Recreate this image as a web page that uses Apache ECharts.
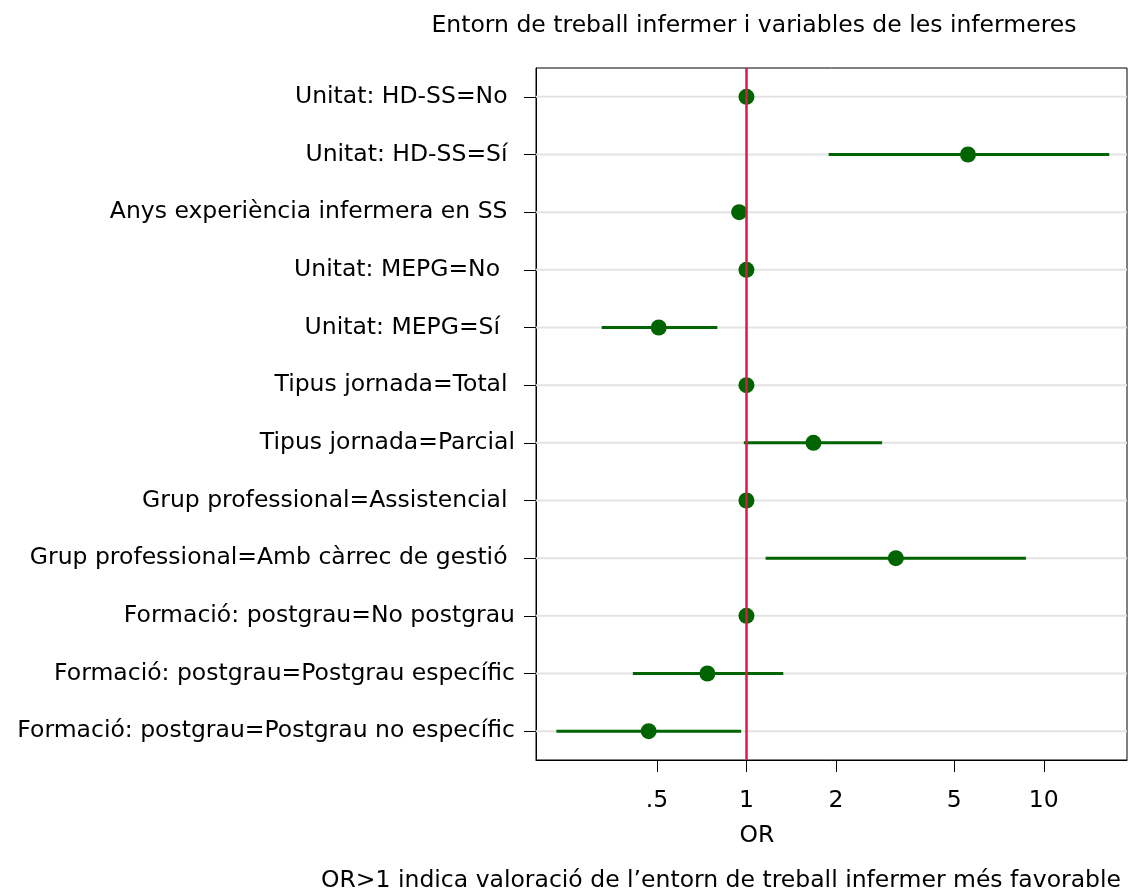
<!DOCTYPE html>
<html>
<head>
<meta charset="utf-8">
<script src="https://cdn.jsdelivr.net/npm/echarts@6/dist/echarts.min.js"></script>
<style>
html,body{margin:0;padding:0;background:#fff;}
#chart{width:1129px;height:892px;}
</style>
</head>
<body>
<div id="chart"></div>
<script>
// ---- data ----
const categories = [
  'Unitat: HD-SS=No',
  'Unitat: HD-SS=Sí',
  'Anys experiència infermera en SS',
  'Unitat: MEPG=No',
  'Unitat: MEPG=Sí',
  'Tipus jornada=Total',
  'Tipus jornada=Parcial',
  'Grup professional=Assistencial',
  'Grup professional=Amb càrrec de gestió',
  'Formació: postgrau=No postgrau',
  'Formació: postgrau=Postgrau específic',
  'Formació: postgrau=Postgrau no específic'
];
const oddsRatio = [1, 5.56, 0.945, 1, 0.507, 1, 1.68, 1, 3.18, 1, 0.739, 0.469];
const ciLow     = [null, 1.89, 0.93, null, 0.326, null, 0.98, null, 1.16, null, 0.415, 0.2295];
const ciHigh    = [null, 16.6, 0.96, null, 0.798, null, 2.86, null, 8.71, null, 1.33, 0.96];
const tickValues = [0.5, 1, 2, 5, 10];
const tickLabels = ['.5', '1', '2', '5', '10'];
const refLine = 1;
const titleText = 'Entorn de treball infermer i variables de les infermeres';
const xName = 'OR';
const noteText = 'OR>1 indica valoració de l\u2019entorn de treball infermer més favorable';

// ---- styling ----
const FONT = '"DejaVu Sans", "Liberation Sans", Arial, sans-serif';
const FS = 23.5;
const GREEN = '#006400';
const RED = '#d81b4a';
const labelPad = [1,1,1,2,2,1,0,1,1,0,0,0];

const chart = echarts.init(document.getElementById('chart'), null, {renderer: 'canvas'});

const ciData = categories.map((c, i) => [ciLow[i], ciHigh[i], i]).filter(d => d[0] != null);
const ptData = categories.map((c, i) => [oddsRatio[i], i]);

const option = {
  backgroundColor: '#fff',
  animation: false,
  grid: {
    left: 536, right: 2, top: 68, bottom: 132,
    show: true, borderColor: '#000', borderWidth: 1, backgroundColor: 'transparent'
  },
  xAxis: {
    type: 'log',
    logBase: 10,
    min: 0.196,
    max: 19.05,
    axisLine: {show: true, lineStyle: {color: '#000', width: 1}},
    axisTick: {show: true, length: 12, lineStyle: {color: '#000', width: 1}, customValues: tickValues},
    axisLabel: {
      show: true, margin: 29, color: '#000', fontFamily: FONT, fontSize: FS,
      customValues: tickValues,
      formatter: function (v) {
        for (let k = 0; k < tickValues.length; k++) {
          if (Math.abs(v - tickValues[k]) < 1e-6 * tickValues[k]) return tickLabels[k];
        }
        return '';
      }
    },
    splitLine: {show: false},
    minorTick: {show: false}
  },
  yAxis: {
    type: 'category',
    data: categories,
    inverse: true,
    axisLine: {show: true, lineStyle: {color: '#000', width: 1}},
    axisTick: {show: true, alignWithLabel: true, length: 12, lineStyle: {color: '#000', width: 1}},
    axisLabel: {
      margin: 21, color: '#000', fontFamily: FONT, fontSize: FS,
      formatter: function (v, i) { return v + ' '.repeat(labelPad[i] || 0); }
    },
    splitLine: {show: false}
  },
  graphic: [
    {type: 'text', x: 754, y: 26, style: {text: titleText, fill: '#000', font: FS + 'px ' + FONT, align: 'center', verticalAlign: 'middle'}},
    {type: 'text', x: 757, y: 836, style: {text: xName, fill: '#000', font: FS + 'px ' + FONT, align: 'center', verticalAlign: 'middle'}},
    {type: 'text', x: 1121, y: 881, style: {text: noteText, fill: '#000', font: FS + 'px ' + FONT, align: 'right', verticalAlign: 'middle'}}
  ],
  series: [
    {
      // horizontal gridlines through each category
      type: 'custom',
      z: 1,
      silent: true,
      data: categories.map((c, i) => [i]),
      encode: {y: 0},
      renderItem: function (params, api) {
        const cs = params.coordSys;
        const y = api.coord([1, api.value(0)])[1];
        return {
          type: 'line',
          shape: {x1: cs.x, y1: y, x2: cs.x + cs.width, y2: y},
          style: {stroke: '#e3e3e3', lineWidth: 2}
        };
      }
    },
    {
      // confidence intervals
      type: 'custom',
      z: 2,
      silent: true,
      data: ciData,
      encode: {x: [0, 1], y: 2},
      renderItem: function (params, api) {
        const p1 = api.coord([api.value(0), api.value(2)]);
        const p2 = api.coord([api.value(1), api.value(2)]);
        return {
          type: 'line',
          shape: {x1: p1[0], y1: p1[1], x2: p2[0], y2: p2[1]},
          style: {stroke: GREEN, lineWidth: 3}
        };
      }
    },
    {
      type: 'line',
      z: 3,
      data: [],
      markLine: {
        silent: true,
        symbol: 'none',
        label: {show: false},
        lineStyle: {color: RED, width: 2.5, type: 'solid'},
        data: [{xAxis: refLine}]
      }
    },
    {
      type: 'scatter',
      z: 4,
      symbol: 'circle',
      symbolSize: 16,
      itemStyle: {color: GREEN, opacity: 1},
      data: ptData
    }
  ]
};
chart.setOption(option);
</script>
</body>
</html>
